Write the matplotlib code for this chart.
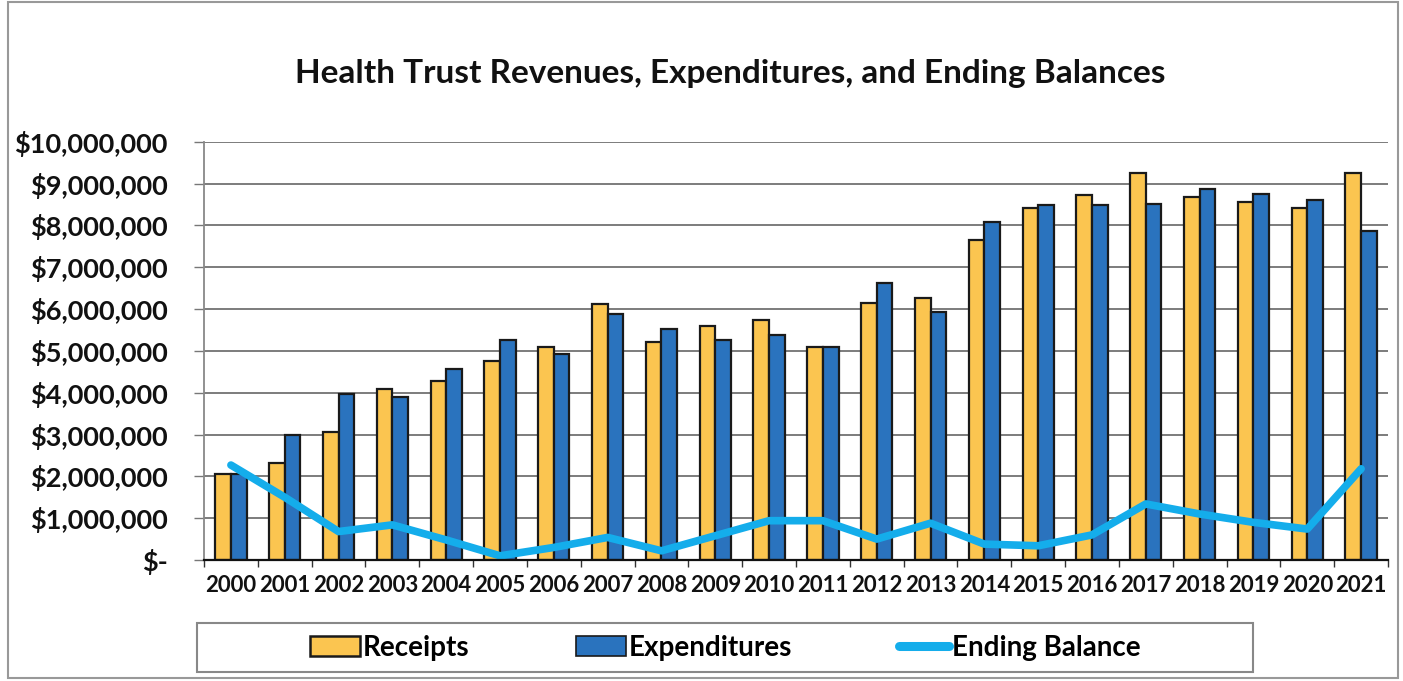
import matplotlib
matplotlib.use('Agg')
import matplotlib.pyplot as plt
import numpy as np
from matplotlib.patches import Rectangle, Patch
from matplotlib.lines import Line2D
from matplotlib.ticker import FuncFormatter

plt.rcParams['font.family'] = ['Lato', 'DejaVu Sans']
plt.rcParams['font.weight'] = 'bold'

years = [str(y) for y in range(2000, 2022)]
receipts = [2060000, 2310000, 3050000, 4090000, 4290000, 4760000, 5100000, 6120000,
            5220000, 5600000, 5730000, 5100000, 6150000, 6270000, 7650000, 8410000,
            8730000, 9260000, 8680000, 8560000, 8420000, 9260000]
expenditures = [2050000, 2990000, 3970000, 3900000, 4570000, 5260000, 4920000, 5890000,
                5520000, 5260000, 5380000, 5100000, 6620000, 5930000, 8080000, 8490000,
                8480000, 8520000, 8880000, 8760000, 8600000, 7860000]
ending_balance = [2270000, 1500000, 680000, 840000, 480000, 100000, 300000, 540000,
                  220000, 580000, 940000, 940000, 500000, 880000, 380000, 340000,
                  600000, 1340000, 1100000, 900000, 740000, 2180000]
series_labels = ['Receipts', 'Expenditures', 'Ending Balance']
title = 'Health Trust Revenues, Expenditures, and Ending Balances'

C_REC = '#FBC550'
C_EXP = '#2A73BE'
C_LINE = '#14ADEB'
C_EDGE = '#1a1a1a'

W, H = 1403, 681
fig = plt.figure(figsize=(W / 100, H / 100), dpi=100)

def fx(px):
    return px / W

def fy(py):
    return 1 - py / H

ax = fig.add_axes([fx(204), fy(560), fx(1388) - fx(204), fy(141.7) - fy(560)])
x = np.arange(len(years))
w = 0.29
ax.bar(x - w / 2, receipts, w, color=C_REC, edgecolor=C_EDGE, linewidth=1.6, zorder=3)
ax.bar(x + w / 2, expenditures, w, color=C_EXP, edgecolor=C_EDGE, linewidth=1.6, zorder=3)
ax.plot(x, ending_balance, color=C_LINE, lw=5.5, solid_joinstyle='round',
        solid_capstyle='round', zorder=4)

ax.set_xlim(-0.5, len(years) - 0.5)
ax.set_ylim(0, 10_000_000)
ax.set_yticks(np.arange(0, 10_000_001, 1_000_000))
ax.yaxis.set_major_formatter(FuncFormatter(lambda v, p: '$-' if v == 0 else f'${v:,.0f}'))
ax.set_xticks(x)
ax.set_xticklabels(years)
ax.set_xticks(np.arange(-0.5, len(years), 1), minor=True)
ax.tick_params(axis='x', which='major', length=0, pad=11, labelsize=16)
ax.tick_params(axis='x', which='minor', length=5, direction='out', width=1.0, color='#333')
ax.tick_params(axis='y', which='major', length=7, direction='out', width=1.0,
               color='#777', pad=19, labelsize=19.5)
for lab in ax.get_xticklabels() + ax.get_yticklabels():
    lab.set_fontweight('bold')
    lab.set_color('#111')

ax.grid(axis='y', color='#666', lw=1.2, zorder=0)
ax.set_axisbelow(True)
for s in ['top', 'right']:
    ax.spines[s].set_visible(False)
ax.spines['left'].set_color('#888')
ax.spines['left'].set_linewidth(1.3)
ax.spines['bottom'].set_color('#111')
ax.spines['bottom'].set_linewidth(1.6)
ax.spines['bottom'].set_zorder(5)

fig.text(fx(730.5), fy(73), title, ha='center', va='center', fontsize=24,
         fontweight='bold', color='#111')

# outer border
fig.patches.append(Rectangle((fx(8), fy(678)), fx(1398) - fx(8), fy(2) - fy(678),
                             transform=fig.transFigure, fill=False, ec='#999', lw=1.5))
# legend frame
fig.patches.append(Rectangle((fx(197), fy(672)), fx(1253) - fx(197), fy(623) - fy(672),
                             transform=fig.transFigure, fill=False, ec='#888', lw=1.5))

handles = [Patch(fc=C_REC, ec=C_EDGE, lw=1.8),
           Patch(fc=C_EXP, ec=C_EDGE, lw=1.2),
           Line2D([], [], color=C_LINE, lw=6.5, solid_capstyle='round')]
fig.legend(handles, series_labels, loc='center', bbox_to_anchor=(fx(725), fy(648)),
           ncol=3, frameon=False, prop={'size': 20, 'weight': 'bold'},
           handlelength=1.8, handleheight=0.75, handletextpad=0.1, columnspacing=3.85)

fig.savefig('out.png', dpi=100)
